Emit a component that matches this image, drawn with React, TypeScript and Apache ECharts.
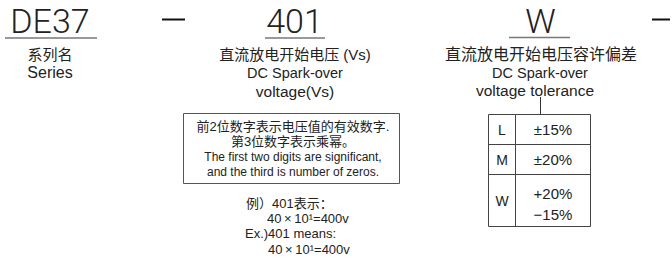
import React, { useEffect, useRef } from "react";
import * as echarts from "echarts";

const codes = ["DE37", "401", "W"];
const codeCenters = [50, 294.5, 540.5];
const seriesLabels = ["系列名", "Series"];
const voltageLabels = ["直流放电开始电压 (Vs)", "DC Spark-over", "voltage(Vs)"];
const toleranceLabels = ["直流放电开始电压容许偏差", "DC Spark-over", "voltage tolerance"];
const noteLines = [
  "前2位数字表示电压值的有效数字.",
  "第3位数字表示乘幂。",
  "The first two digits are significant,",
  "and the third is number of zeros.",
];
const exampleLines = ["例）401表示：", "40\u2009×\u200910¹=400v", "Ex.)401 means:", "40\u2009×\u200910¹=400v"];
const tolCodes = ["L", "M", "W"];
const tolValues = [["±15%"], ["±20%"], ["+20%", "−15%"]];

const FONT = '"Liberation Sans", Arial, "Noto Sans CJK SC", sans-serif';
const INK = "#222";

function txt(text: string, x: number, y: number, size: number, align = "center", extra: any = {}) {
  return {
    type: "text",
    silent: true,
    style: {
      text,
      x,
      y,
      font: `${extra.weight || "normal"} ${size}px ${extra.family || FONT}`,
      fill: INK,
      textAlign: align,
      textVerticalAlign: "middle",
    },
  };
}

function line(x1: number, y1: number, x2: number, y2: number, w = 1, c = "#333") {
  return {
    type: "line",
    silent: true,
    shape: { x1, y1, x2, y2 },
    style: { stroke: c, lineWidth: w },
  };
}

export default function App() {
  const ref = useRef<HTMLDivElement>(null);
  useEffect(() => {
    if (!ref.current) return;
    const chart = echarts.init(ref.current, null, { renderer: "svg" });
    const els: any[] = [];

    // big codes with underlines
    codes.forEach((c, i) => {
      els.push(txt(c, codeCenters[i], 21, 34, "center", { weight: 300, family: 'Roboto, "Liberation Sans", sans-serif' }));
    });
    els.push(line(5, 38, 97, 38, 1.5, "#777"));
    els.push(line(265, 38, 325, 38, 1.5, "#777"));
    els.push(line(509, 37.5, 570, 37.5, 1.5, "#777"));

    // dashes
    els.push(line(162, 19.5, 185, 19.5, 2, "#111"));
    els.push(line(652, 19.5, 670, 19.5, 2, "#111"));

    // series label
    els.push(txt(seriesLabels[0], 50, 54, 15));
    els.push(txt(seriesLabels[1], 50, 72, 16));

    // voltage labels
    els.push(txt(voltageLabels[0], 295, 54, 15));
    els.push(txt(voltageLabels[1], 295, 73, 14.5));
    els.push(txt(voltageLabels[2], 295, 91, 15.5));

    // tolerance labels
    els.push(txt(toleranceLabels[0], 541, 54, 16));
    els.push(txt(toleranceLabels[1], 540, 73, 14.5));
    els.push(txt(toleranceLabels[2], 535, 90, 15.5));

    // note box
    els.push({
      type: "rect",
      silent: true,
      shape: { x: 183.5, y: 113.5, width: 216, height: 70 },
      style: { fill: "none", stroke: "#555", lineWidth: 1 },
    });
    const noteY = [126, 141, 156.5, 172];
    noteLines.forEach((t, i) => {
      els.push(txt(t, 293, noteY[i], i < 2 ? 13 : 12));
    });

    // example
    const exX = [246, 267, 245, 268];
    const exY = [203, 218, 233, 249];
    exampleLines.forEach((t, i) => {
      els.push(txt(t, exX[i], exY[i], 13, "left"));
    });

    // tolerance table
    els.push(line(540.5, 97, 540.5, 114, 1, "#333"));
    els.push({
      type: "rect",
      silent: true,
      shape: { x: 488.5, y: 114.5, width: 102, height: 112 },
      style: { fill: "none", stroke: "#444", lineWidth: 1 },
    });
    els.push(line(515.5, 114.5, 515.5, 226.5, 1, "#444"));
    els.push(line(488.5, 144.5, 590.5, 144.5, 1, "#444"));
    els.push(line(488.5, 174.5, 590.5, 174.5, 1, "#444"));
    const rowMid = [129.5, 159.5, 200.5];
    tolCodes.forEach((c, i) => {
      els.push(txt(c, 502, rowMid[i], 14));
      const vals = tolValues[i];
      if (vals.length === 1) {
        els.push(txt(vals[0], 553, rowMid[i], 15));
      } else {
        els.push(txt(vals[0], 553, 193, 15));
        els.push(txt(vals[1], 553, 214, 15));
      }
    });

    chart.setOption({
      animation: false,
      backgroundColor: "#fff",
      graphic: { elements: els },
    });
    return () => chart.dispose();
  }, []);
  return (
    <div
      ref={ref}
      style={{ position: "fixed", left: 0, top: 0, width: 672, height: 261, background: "#fff" }}
    />
  );
}
